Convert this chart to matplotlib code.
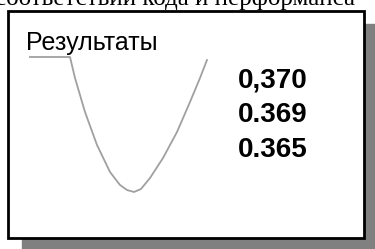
import matplotlib
matplotlib.use("Agg")
import matplotlib.pyplot as plt
from matplotlib.patches import Rectangle

# curve points (pixel-like units, y down)
curve_x = [30, 70, 75, 85, 97, 110, 120, 127, 134, 141, 150, 163, 177, 190, 200, 207]
curve_y = [57, 57, 78, 112, 145, 172, 185, 190, 192, 189, 178, 158, 132, 102, 78, 60]

title = "Результаты"
values = ["0,370", "0.369", "0.365"]
top_text = "соответствии кода и перформанса"

fig = plt.figure(figsize=(3.75, 2.49), dpi=100)
ax = fig.add_axes([0, 0, 1, 1])
ax.set_xlim(0, 375)
ax.set_ylim(249, 0)
ax.axis("off")

# shadow + frame
ax.add_patch(Rectangle((22, 24), 353, 225, color="#808080", zorder=1))
ax.add_patch(Rectangle((8, 11), 356, 227, facecolor="white", edgecolor="black",
                       lw=2, zorder=2))

ax.plot(curve_x, curve_y, color="#a0a0a0", lw=1.3, zorder=3,
        solid_joinstyle="round")

ax.text(26, 50, title, fontsize=18, family="Liberation Sans", zorder=4)
for i, v in enumerate(values):
    ax.text(238, 87 + i * 35, v, fontsize=20, fontweight="bold",
            family="Liberation Sans", zorder=4)

# clipped line of text above the frame (only its lower part shows)
ax.text(-5, 5, top_text, fontsize=18, family="Liberation Serif", zorder=0)

fig.savefig("out.png", dpi=100)
